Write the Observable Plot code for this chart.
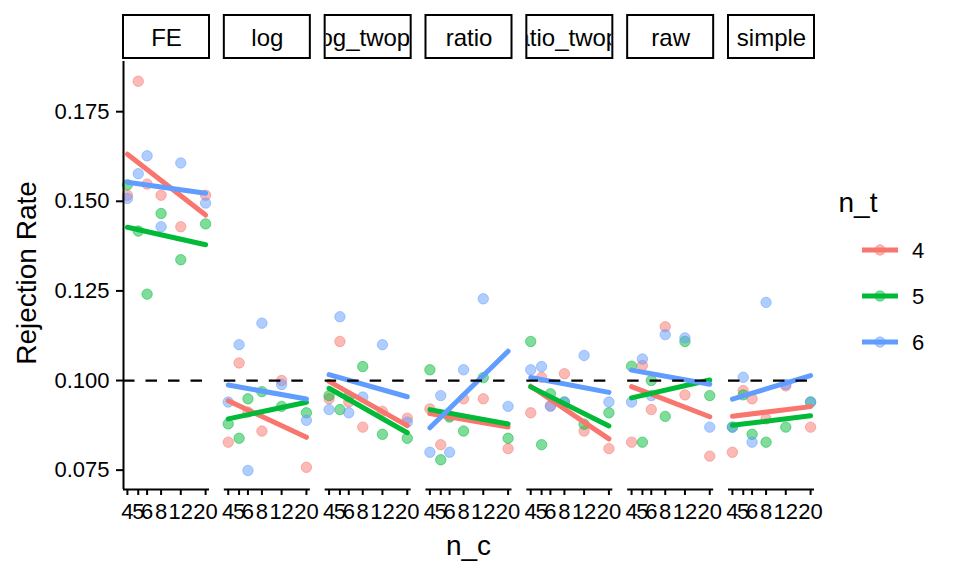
<!DOCTYPE html>
<html>
<head>
<meta charset="utf-8">
<script src="https://cdn.jsdelivr.net/npm/d3@7"></script>
<script src="https://cdn.jsdelivr.net/npm/@observablehq/plot@0.6"></script>
<style>
  body { margin: 0; background: #fff; }
  #wrap { position: relative; width: 960px; height: 576px; font-family: "Liberation Sans", Arial, sans-serif; }
</style>
</head>
<body>
<div id="wrap"></div>
<script>
// ---- data ----
const methods = ["FE", "log", "log_twopc", "ratio", "ratio_twopc", "raw", "simple"];
const nC = [4, 5, 6, 8, 12, 20];
const nT = ["4", "5", "6"];
const colors = ["#F8766D", "#00BA38", "#619CFF"];
const yTicks = [0.075, 0.100, 0.125, 0.150, 0.175];

// rejection rates: one row per n_t (4, 5, 6), one value per n_c (4, 5, 6, 8, 12, 20)
const rateFE = [
  [0.1517, 0.1835, 0.1548, 0.1517, 0.1429, 0.1517],
  [0.1546, 0.1417, 0.1241, 0.1466, 0.1337, 0.1437],
  [0.1508, 0.1577, 0.1627, 0.1429, 0.1607, 0.1495]
];
const rateLog = [
  [0.0828, 0.1049, 0.0912, 0.0859, 0.1000, 0.0758],
  [0.0879, 0.0839, 0.0949, 0.0969, 0.0928, 0.0910],
  [0.0940, 0.1100, 0.0749, 0.1160, 0.0989, 0.0889]
];
const rateLogTwopc = [
  [0.0949, 0.1109, 0.0940, 0.0870, 0.0914, 0.0895],
  [0.0958, 0.0919, 0.0955, 0.1039, 0.0850, 0.0839],
  [0.0919, 0.1178, 0.0910, 0.0954, 0.1100, 0.0884]
];
const rateRatio = [
  [0.0921, 0.0821, 0.0902, 0.0949, 0.0949, 0.0810],
  [0.1030, 0.0779, 0.0898, 0.0859, 0.1008, 0.0839],
  [0.0800, 0.0958, 0.0800, 0.1030, 0.1228, 0.0928]
];
const rateRatioTwopc = [
  [0.0910, 0.1009, 0.0930, 0.1019, 0.0859, 0.0810],
  [0.1109, 0.0821, 0.0963, 0.0940, 0.0878, 0.0910],
  [0.1030, 0.1039, 0.0928, 0.0940, 0.1070, 0.0940]
];
const rateRaw = [
  [0.0828, 0.1042, 0.0919, 0.1150, 0.0960, 0.0789],
  [0.1040, 0.0828, 0.1000, 0.0900, 0.1109, 0.0958],
  [0.0940, 0.1060, 0.0958, 0.1128, 0.1119, 0.0870]
];
const rateSimple = [
  [0.0800, 0.0972, 0.0949, 0.0893, 0.0985, 0.0870],
  [0.0870, 0.0960, 0.0850, 0.0828, 0.0870, 0.0940],
  [0.0870, 0.1009, 0.0828, 0.1218, 0.0989, 0.0940]
];
const rateList = [rateFE, rateLog, rateLogTwopc, rateRatio, rateRatioTwopc, rateRaw, rateSimple];

const rows = [];
methods.forEach((m, i) => nT.forEach((t, j) => nC.forEach((c, k) =>
  rows.push({method: m, n_t: t, n_c: c, rate: rateList[i][j][k]}))));

// ---- layout ----
const W = 960, H = 576, mL = 123, mR = 146, mT = 61, mB = 87;
const lr = Math.log(20 / 4);
const xDom = [4 * Math.exp(-0.05 * lr), 20 * Math.exp(0.05 * lr)];
const yDom = [0.0696, 0.189];
const pxPerY = (H - mT - mB) / (yDom[1] - yDom[0]);
const stripTop = yDom[1] + (mT - 15) / pxPerY;
const stripBot = yDom[1] + (mT - 58) / pxPerY;

const plot = Plot.plot({
  width: W, height: H,
  marginLeft: mL, marginRight: mR, marginTop: mT, marginBottom: mB,
  style: {fontFamily: "Liberation Sans, Arial, sans-serif", background: "white", color: "black", overflow: "visible"},
  fx: {domain: methods, paddingInner: 0.147, paddingOuter: 0, round: false, axis: null, label: null},
  x: {type: "log", domain: xDom, label: null},
  y: {domain: yDom, label: null},
  color: {domain: nT, range: colors},
  marks: [
    Plot.rect(methods, {fx: d => d, x1: () => xDom[0], x2: () => xDom[1], y1: () => stripBot, y2: () => stripTop,
      fill: "white", stroke: "black", strokeWidth: 2}),
    Plot.text(methods, {fx: d => d, text: d => d, frameAnchor: "top", dy: -32.5, fontSize: 24, fill: "black"}),
    Plot.dot(rows, {fx: "method", x: "n_c", y: "rate", fill: "n_t", stroke: "n_t", r: 5.2,
      fillOpacity: 0.5, strokeOpacity: 0.5, strokeWidth: 1}),
    Plot.linearRegressionY(rows, {fx: "method", x: "n_c", y: "rate", stroke: "n_t", ci: 0, strokeWidth: 5}),
    Plot.ruleY([0.1], {stroke: "black", strokeWidth: 2.2, strokeDasharray: "11.5,11"}),
    Plot.ruleY([yDom[0]], {stroke: "black", strokeWidth: 2}),
    Plot.ruleX([{m: methods[0]}], {fx: "m", x: () => xDom[0], stroke: "black", strokeWidth: 2}),
    Plot.axisX({ticks: nC, tickFormat: d => String(d), tickSize: 6, tickPadding: 8, fontSize: 22,
      strokeWidth: 2, label: null}),
    Plot.axisY({ticks: yTicks, tickFormat: d3.format(".3f"), tickSize: 7, tickPadding: 7, fontSize: 22,
      strokeWidth: 2, label: null})
  ]
});

document.getElementById("wrap").appendChild(plot);

// clip strip labels to their boxes (like ggplot strips)
const svg = d3.select(plot);
const defs = svg.append("defs");
const rects = Array.from(plot.querySelectorAll('g[aria-label="rect"] rect'));
const texts = Array.from(plot.querySelectorAll('g[aria-label="text"] text'));
texts.forEach((t, i) => {
  const tb = t.getBoundingClientRect();
  const cx = (tb.left + tb.right) / 2;
  const r = rects.find(r => { const b = r.getBoundingClientRect(); return cx >= b.left && cx <= b.right; });
  if (!r) return;
  const b = r.getBoundingClientRect();
  const parent = t.parentNode;
  const inv = parent.getScreenCTM().inverse();
  const p1 = new DOMPoint(b.left + 1, b.top + 1).matrixTransform(inv);
  const p2 = new DOMPoint(b.right - 1, b.bottom - 1).matrixTransform(inv);
  const id = "stripclip" + i;
  defs.append("clipPath").attr("id", id).attr("clipPathUnits", "userSpaceOnUse")
    .append("rect").attr("x", p1.x).attr("y", p1.y).attr("width", p2.x - p1.x).attr("height", p2.y - p1.y);
  const g = document.createElementNS("http://www.w3.org/2000/svg", "g");
  g.setAttribute("clip-path", `url(#${id})`);
  parent.insertBefore(g, t);
  g.appendChild(t);
});

// axis titles
svg.append("text").text("Rejection Rate")
  .attr("transform", "translate(36,273) rotate(-90)")
  .attr("text-anchor", "middle").attr("font-size", 28).attr("fill", "black");
svg.append("text").text("n_c")
  .attr("x", (mL + (W - mR)) / 2).attr("y", 555)
  .attr("text-anchor", "middle").attr("font-size", 28).attr("fill", "black");

// legend
const leg = svg.append("g").attr("font-family", "Liberation Sans, Arial, sans-serif");
leg.append("text").text("n_t").attr("x", 858).attr("y", 212).attr("font-size", 28).attr("fill", "black");
nT.forEach((t, i) => {
  const y = 250 + i * 46;
  leg.append("line").attr("x1", 862).attr("x2", 898).attr("y1", y).attr("y2", y)
    .attr("stroke", colors[i]).attr("stroke-width", 5);
  leg.append("circle").attr("cx", 880).attr("cy", y).attr("r", 5.2)
    .attr("fill", colors[i]).attr("fill-opacity", 0.5).attr("stroke", colors[i]).attr("stroke-opacity", 0.5);
  leg.append("text").text(t).attr("x", 918).attr("y", y).attr("dy", "0.35em")
    .attr("font-size", 22).attr("fill", "black");
});
</script>
</body>
</html>
